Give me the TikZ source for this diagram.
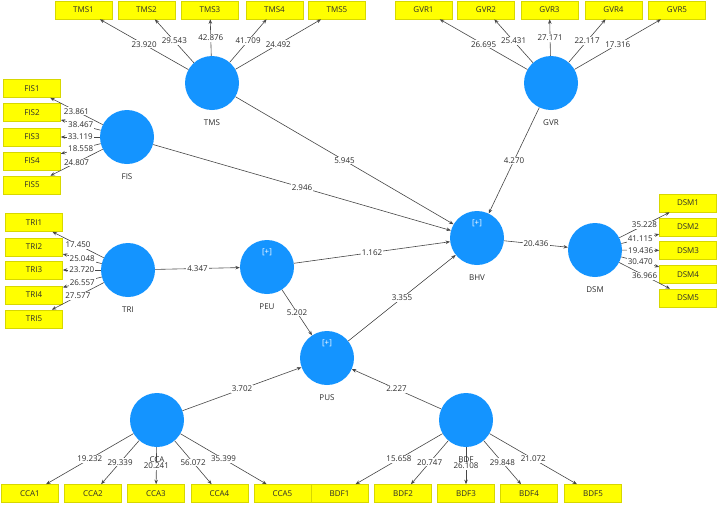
\documentclass[tikz,border=0pt]{standalone}
\usepackage{fontspec}
\setmainfont{Open Sans}
\usetikzlibrary{arrows.meta,positioning}
\definecolor{lvblue}{RGB}{20,148,255}
\definecolor{indyellow}{RGB}{255,255,0}
\definecolor{indedge}{RGB}{215,215,0}
\definecolor{pathgray}{RGB}{70,70,70}
\definecolor{txtgray}{RGB}{45,45,45}
\tikzset{
  lv/.style={circle, fill=lvblue, minimum size=54pt, inner sep=0pt},
  lvname/.style={text=txtgray, inner sep=1pt},
  plus/.style={text=white, inner sep=1pt},
  ind/.style={rectangle, fill=indyellow, draw=indedge, line width=0.6pt, minimum width=57pt, minimum height=18pt, inner sep=0pt, text=txtgray},
  arr/.style={draw=pathgray, line width=0.6pt, -{Stealth[length=4.5pt,width=3.5pt]}},
  ld/.style={fill=white, inner sep=1pt, text=txtgray},
}
\begin{document}
\begin{tikzpicture}[x=1pt, y=-1pt, font=\fontsize{8}{9.6}\selectfont]
  \useasboundingbox (0,0) rectangle (719,504);
  % latent variables
  \node[lv] (TMS) at (212,83) {};
  \node[lv] (GVR) at (551,83) {};
  \node[lv] (FIS) at (127,137) {};
  \node[lv] (TRI) at (128,270) {};
  \node[lv] (PEU) at (267,267) {};
  \node[lv] (BHV) at (477,238) {};
  \node[lv] (PUS) at (327,358) {};
  \node[lv] (DSM) at (595,250) {};
  \node[lv] (CCA) at (157,420) {};
  \node[lv] (BDF) at (466,420) {};
  \node[plus, above=10pt of PEU.center] (PEUp) {[+]};
  \node[plus, above=10pt of BHV.center] (BHVp) {[+]};
  \node[plus, above=10pt of PUS.center] (PUSp) {[+]};
  % indicators
  \node[ind] (TMS1) at (83.5,10) {TMS1};
  \node[ind] (TMS2) at (146.5,10) {TMS2};
  \node[ind] (TMS3) at (210,10) {TMS3};
  \node[ind] (TMS4) at (274.5,10) {TMS4};
  \node[ind] (TMS5) at (337,10) {TMS5};
  \node[ind] (GVR1) at (423.5,10) {GVR1};
  \node[ind] (GVR2) at (486,10) {GVR2};
  \node[ind] (GVR3) at (549.5,10) {GVR3};
  \node[ind] (GVR4) at (613.5,10) {GVR4};
  \node[ind] (GVR5) at (677,10) {GVR5};
  \node[ind] (FIS1) at (32,88.5) {FIS1};
  \node[ind] (FIS2) at (32,112.5) {FIS2};
  \node[ind] (FIS3) at (32,137) {FIS3};
  \node[ind] (FIS4) at (32,161) {FIS4};
  \node[ind] (FIS5) at (32,185) {FIS5};
  \node[ind] (TRI1) at (34,222.5) {TRI1};
  \node[ind] (TRI2) at (34,247) {TRI2};
  \node[ind] (TRI3) at (34,270) {TRI3};
  \node[ind] (TRI4) at (34,295) {TRI4};
  \node[ind] (TRI5) at (34,319) {TRI5};
  \node[ind] (DSM1) at (688,203) {DSM1};
  \node[ind] (DSM2) at (688,227) {DSM2};
  \node[ind] (DSM3) at (688,250.5) {DSM3};
  \node[ind] (DSM4) at (688,274.5) {DSM4};
  \node[ind] (DSM5) at (688,298) {DSM5};
  \node[ind] (CCA1) at (30,493.5) {CCA1};
  \node[ind] (CCA2) at (93,493.5) {CCA2};
  \node[ind] (CCA3) at (156,493.5) {CCA3};
  \node[ind] (CCA4) at (219.5,493.5) {CCA4};
  \node[ind] (CCA5) at (282.5,493.5) {CCA5};
  \node[ind] (BDF1) at (339.5,493.5) {BDF1};
  \node[ind] (BDF2) at (403,493.5) {BDF2};
  \node[ind] (BDF3) at (466,493.5) {BDF3};
  \node[ind] (BDF4) at (529,493.5) {BDF4};
  \node[ind] (BDF5) at (593,493.5) {BDF5};
  % outer loadings
  \draw[arr] (TMS) -- node[ld] {23.920} (TMS1);
  \draw[arr] (TMS) -- node[ld] {29.543} (TMS2);
  \draw[arr] (TMS) -- node[ld] {42.876} (TMS3);
  \draw[arr] (TMS) -- node[ld] {41.709} (TMS4);
  \draw[arr] (TMS) -- node[ld] {24.492} (TMS5);
  \draw[arr] (GVR) -- node[ld] {26.695} (GVR1);
  \draw[arr] (GVR) -- node[ld] {25.431} (GVR2);
  \draw[arr] (GVR) -- node[ld] {27.171} (GVR3);
  \draw[arr] (GVR) -- node[ld] {22.117} (GVR4);
  \draw[arr] (GVR) -- node[ld] {17.316} (GVR5);
  \draw[arr] (FIS) -- node[ld] {23.861} (FIS1);
  \draw[arr] (FIS) -- node[ld] {38.467} (FIS2);
  \draw[arr] (FIS) -- node[ld] {33.119} (FIS3);
  \draw[arr] (FIS) -- node[ld] {18.558} (FIS4);
  \draw[arr] (FIS) -- node[ld] {24.807} (FIS5);
  \draw[arr] (TRI) -- node[ld] {17.450} (TRI1);
  \draw[arr] (TRI) -- node[ld] {25.048} (TRI2);
  \draw[arr] (TRI) -- node[ld] {23.720} (TRI3);
  \draw[arr] (TRI) -- node[ld] {26.557} (TRI4);
  \draw[arr] (TRI) -- node[ld] {27.577} (TRI5);
  \draw[arr] (DSM) -- node[ld] {35.228} (DSM1);
  \draw[arr] (DSM) -- node[ld] {41.115} (DSM2);
  \draw[arr] (DSM) -- node[ld] {19.436} (DSM3);
  \draw[arr] (DSM) -- node[ld] {30.470} (DSM4);
  \draw[arr] (DSM) -- node[ld] {36.966} (DSM5);
  \draw[arr] (CCA) -- node[ld] {19.232} (CCA1);
  \draw[arr] (CCA) -- node[ld] {29.339} (CCA2);
  \draw[arr] (CCA) -- node[ld] {20.241} (CCA3);
  \draw[arr] (CCA) -- node[ld] {56.072} (CCA4);
  \draw[arr] (CCA) -- node[ld] {35.399} (CCA5);
  \draw[arr] (BDF) -- node[ld] {15.658} (BDF1);
  \draw[arr] (BDF) -- node[ld] {20.747} (BDF2);
  \draw[arr] (BDF) -- node[ld] {26.108} (BDF3);
  \draw[arr] (BDF) -- node[ld] {29.848} (BDF4);
  \draw[arr] (BDF) -- node[ld] {21.072} (BDF5);
  % names of the constructs
  \node[lvname, below=8pt of TMS] (TMSn) {TMS};
  \node[lvname, below=8pt of GVR] (GVRn) {GVR};
  \node[lvname, below=8pt of FIS] (FISn) {FIS};
  \node[lvname, below=8pt of TRI] (TRIn) {TRI};
  \node[lvname, below=8pt of PEU] (PEUn) {PEU};
  \node[lvname, below=8pt of BHV] (BHVn) {BHV};
  \node[lvname, below=8pt of PUS] (PUSn) {PUS};
  \node[lvname, below=8pt of DSM] (DSMn) {DSM};
  \node[lvname, below=8pt of CCA] (CCAn) {CCA};
  \node[lvname, below=8pt of BDF] (BDFn) {BDF};
  % structural paths
  \draw[arr] (TMS) -- node[ld] {5.945} (BHV);
  \draw[arr] (GVR) -- node[ld] {4.270} (BHV);
  \draw[arr] (FIS) -- node[ld] {2.946} (BHV);
  \draw[arr] (TRI) -- node[ld] {4.347} (PEU);
  \draw[arr] (PEU) -- node[ld] {1.162} (BHV);
  \draw[arr] (PEU) -- node[ld] {5.202} (PUS);
  \draw[arr] (PUS) -- node[ld] {3.355} (BHV);
  \draw[arr] (BHV) -- node[ld] {20.436} (DSM);
  \draw[arr] (CCA) -- node[ld] {3.702} (PUS);
  \draw[arr] (BDF) -- node[ld] {2.227} (PUS);
\end{tikzpicture}
\end{document}
